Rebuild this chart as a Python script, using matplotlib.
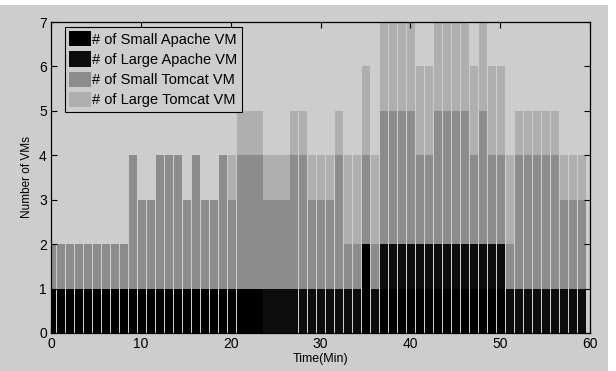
import numpy as np
import matplotlib.pyplot as plt
from matplotlib.patches import Rectangle

plt.rcParams['font.family'] = ['Liberation Sans', 'DejaVu Sans']

# minutes 0..59, VM counts per minute
minutes = np.arange(60)
small_apache = [1]*24 + [0]*11 + [2, 0] + [1]*14 + [0]*9
large_apache = [0]*24 + [1]*11 + [0, 1] + [1]*14 + [1]*9
small_tomcat = [1, 1, 1, 1, 1, 1, 1, 1, 1, 3,
                2, 2, 3, 3, 3, 2, 3, 2, 2, 3,
                2, 3, 3, 3, 2, 2, 2, 3, 3, 2,
                2, 2, 3, 1, 1, 2, 1, 3, 3, 3,
                3, 2, 2, 3, 3, 3, 3, 2, 3, 2,
                2, 1, 3, 3, 3, 3, 3, 2, 2, 2]
large_tomcat = [0, 0, 0, 0, 0, 0, 0, 0, 0, 0,
                0, 0, 0, 0, 0, 0, 0, 0, 0, 0,
                1, 1, 1, 1, 1, 1, 1, 1, 1, 1,
                1, 1, 1, 2, 2, 2, 2, 2, 2, 2,
                2, 2, 2, 2, 2, 2, 2, 2, 2, 2,
                2, 2, 1, 1, 1, 1, 1, 1, 1, 1]

labels = ['# of Small Apache VM', '# of Large Apache VM',
          '# of Small Tomcat VM', '# of Large Tomcat VM']
colors = ['#000000', '#0d0d0d', '#8c8c8c', '#afafaf']
bg = '#cdcdcd'

fig = plt.figure(figsize=(6.16, 3.71), dpi=100, facecolor='white')
fig.patches.append(Rectangle((0, 0), 608/616, 366/371, transform=fig.transFigure,
                             facecolor=bg, edgecolor='none', zorder=-10))
ax = fig.add_axes([51/616, 38/371, 539/616, 311/371])
ax.set_facecolor(bg)

series = [small_apache, large_apache, small_tomcat, large_tomcat]
bottom = np.zeros(len(minutes))
for vals, lab, col in zip(series, labels, colors):
    vals = np.array(vals)
    ax.bar(minutes + 0.1, vals, width=0.9, bottom=bottom, color=col, label=lab,
           edgecolor='none')
    bottom += vals

ax.set_xlim(0, 60)
ax.set_ylim(0, 7)
ax.set_xticks(range(0, 61, 10))
ax.set_yticks(range(0, 8))
ax.tick_params(direction='in', top=True, right=True, labelsize=10, length=4,
               width=0.8, pad=3)
for s in ax.spines.values():
    s.set_linewidth(0.9)
ax.set_xlabel('Time(Min)', fontsize=9, labelpad=1)
ax.set_ylabel('Number of VMs', fontsize=8.5, labelpad=4)

leg = ax.legend(loc='upper left', bbox_to_anchor=(0.026, 0.985), borderaxespad=0,
                fancybox=False, edgecolor='black', facecolor=bg, framealpha=1,
                fontsize=10.5, handlelength=1.5, handleheight=1.25, handletextpad=0.05,
                labelspacing=0.32, borderpad=0.3)
leg.get_frame().set_linewidth(0.8)

plt.savefig('out.png', dpi=100, facecolor=fig.get_facecolor())
